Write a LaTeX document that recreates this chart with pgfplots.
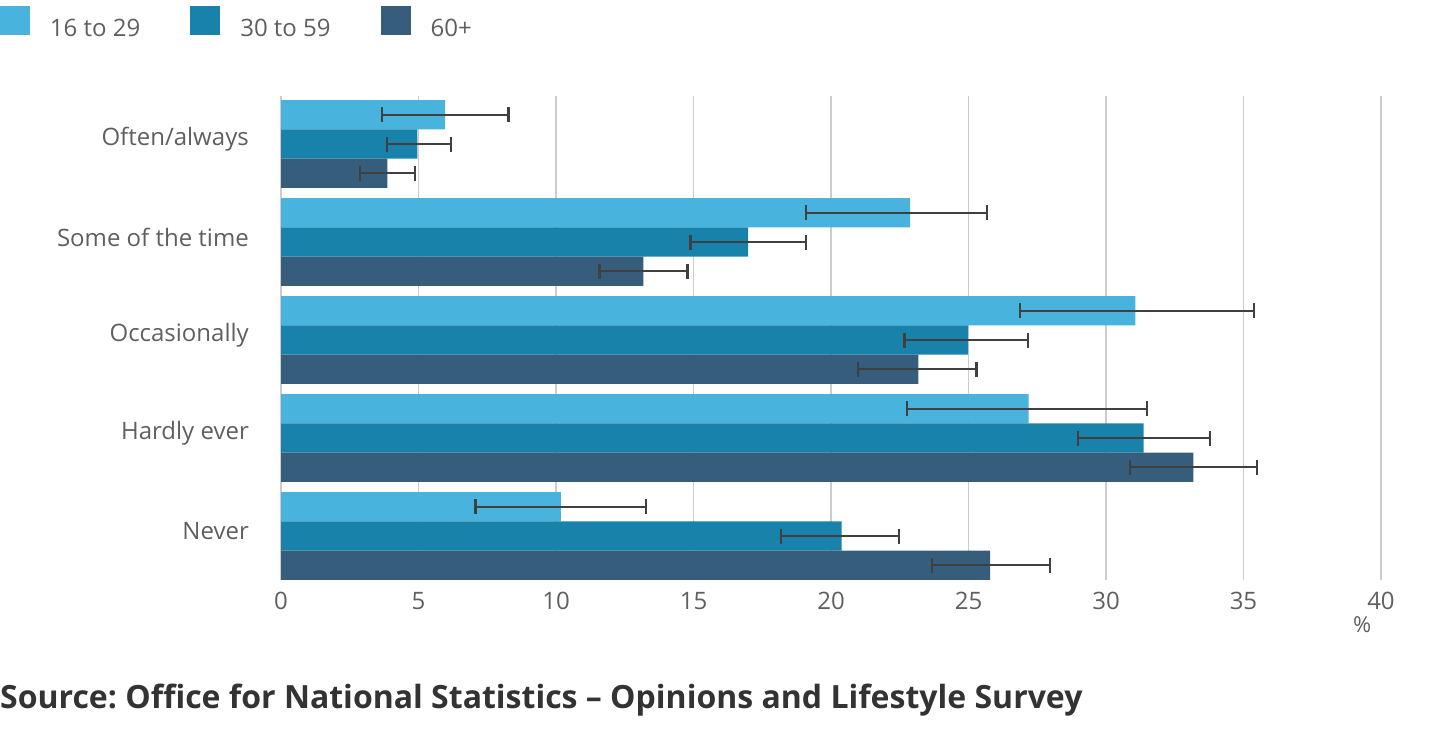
\documentclass[border=0pt]{standalone}
\usepackage{fontspec}
\setmainfont{Open Sans}
\usepackage{pgfplots}
\pgfplotsset{compat=1.18}
\usepackage{pgfplotstable}
\frenchspacing

\definecolor{cyoung}{HTML}{48B4DD}
\definecolor{cmid}{HTML}{1882AB}
\definecolor{cold}{HTML}{375D7D}
\definecolor{labgray}{HTML}{5F5F5F}
\definecolor{errgray}{HTML}{404040}
\definecolor{gridgray}{HTML}{CCCCCC}

% y: category index (0 = Often/always), v: estimate, lo/hi: interval
\pgfplotstableread{
y       v     lo     hi
-0.299  5.97  3.66   8.27
0.701   22.88 19.08  25.67
1.701   31.07 26.87  35.38
2.701   27.19 22.76  31.48
3.701   10.18 7.07   13.28
}\young
\pgfplotstableread{
y       v     lo     hi
0       4.96  3.86   6.17
1       16.99 14.89  19.08
2       24.99 22.67  27.17
3       31.37 28.98  33.78
4       20.39 18.18  22.48
}\mid
\pgfplotstableread{
y       v     lo     hi
0.299   3.87  2.86   4.87
1.299   13.18 11.58  14.78
2.299   23.18 20.97  25.29
3.299   33.18 30.88  35.50
4.299   25.79 23.67  27.97
}\old

\pgfplotsset{
    ci/.style={
        error bars/.cd,
        x dir=both, x explicit,
        error bar style={errgray, line width=2.2pt},
        error mark options={errgray, line width=2.2pt, mark size=7.5pt, rotate=90},
    },
}

\begin{document}
\begin{tikzpicture}
\path[use as bounding box] (0,0) rectangle (1439pt,732pt);
\begin{axis}[
    at={(281pt,152pt)}, anchor=south west,
    scale only axis,
    width=1100pt, height=484pt,
    xbar, bar shift=0pt, bar width=29.3pt,
    y dir=reverse,
    xmin=0, xmax=40,
    ymin=-0.4898, ymax=4.449,
    xtick={0,5,...,40},
    ytick={0,1,2,3,4},
    yticklabels={Often/always,Some of the time,Occasionally,Hardly ever,Never},
    axis line style={draw=none},
    major tick length=0pt,
    xmajorgrids,
    grid style={gridgray, line width=1.5pt},
    tick label style={font=\fontsize{24}{28}\selectfont, text=labgray, inner sep=0pt},
    yticklabel style={yshift=5pt},
    xticklabel shift=12pt,
    yticklabel shift=32pt,
    /pgf/number format/assume math mode=true,
    xlabel={\%},
    xlabel style={font=\fontsize{22}{26}\selectfont, text=labgray, inner sep=0pt,
        at={(axis description cs:0.983,-0.093)}, anchor=center},
    legend style={at={(axis description cs:-0.2555,1.186)}, anchor=north west,
        draw=none, inner sep=0pt, outer sep=0pt,
        font=\fontsize{24}{28}\selectfont, text=labgray,
        nodes={inner sep=0pt},
        /tikz/every even column/.append style={column sep=50pt}},
    legend columns=3,
    legend image code/.code={
        \fill[#1] (0pt,-6pt) rectangle (30pt,23pt);
        \path (50pt,0pt);
    },
]
\addplot[fill=cyoung, draw=none, ci] table[x=v, y=y,
    x error plus expr=\thisrow{hi}-\thisrow{v},
    x error minus expr=\thisrow{v}-\thisrow{lo}] {\young};
\addplot[fill=cmid, draw=none, ci] table[x=v, y=y,
    x error plus expr=\thisrow{hi}-\thisrow{v},
    x error minus expr=\thisrow{v}-\thisrow{lo}] {\mid};
\addplot[fill=cold, draw=none, ci] table[x=v, y=y,
    x error plus expr=\thisrow{hi}-\thisrow{v},
    x error minus expr=\thisrow{v}-\thisrow{lo}] {\old};
\legend{16 to 29, 30 to 59, 60+}
\end{axis}
\node[anchor=west, inner sep=0pt, font=\fontsize{32}{38}\selectfont\bfseries, text={black!80}]
    at (0pt,32pt) {Source: Office for National Statistics – Opinions and Lifestyle Survey};
\end{tikzpicture}
\end{document}
